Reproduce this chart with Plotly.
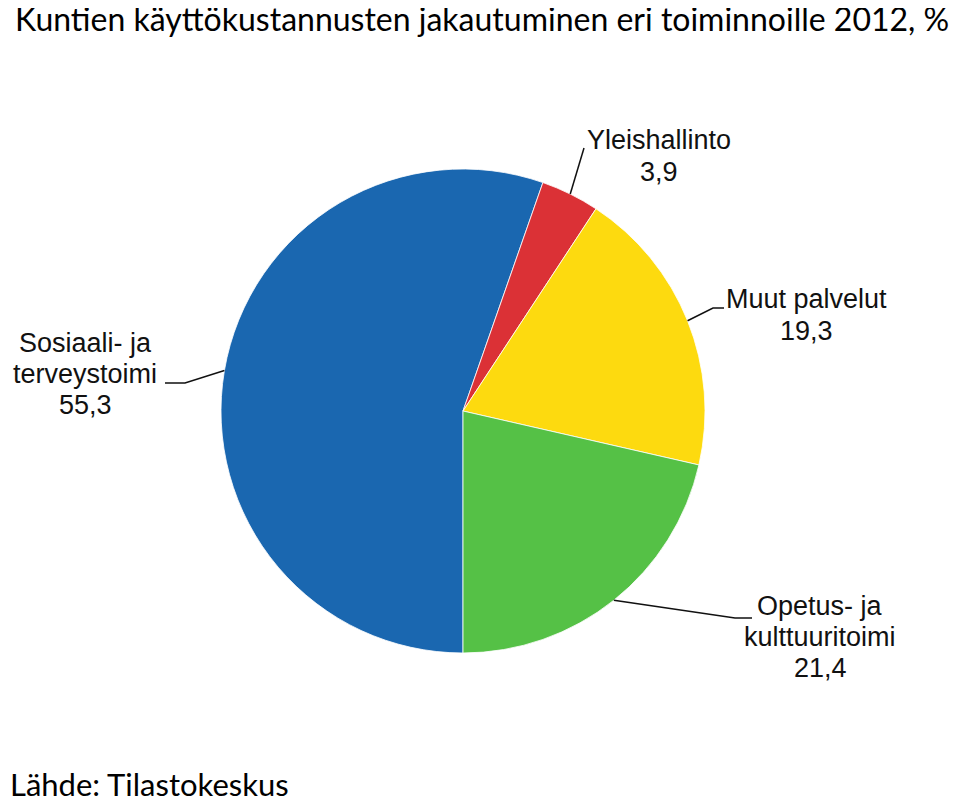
import math
import plotly.graph_objects as go

# ── Data ──────────────────────────────────────────────────────────────────────
categories = ["Sosiaali- ja\nterveystoimi", "Yleishallinto",
              "Muut palvelut", "Opetus- ja\nkulttuuritoimi"]
shares = [55.3, 3.9, 19.3, 21.4]
colors = ["#1a67b0", "#db3136", "#fdda0f", "#55c146"]

title_text = "Kuntien käyttökustannusten jakautuminen eri toiminnoille 2012, %"
source_text = "Lähde: Tilastokeskus"

# ── Layout geometry (screen pixels; page body adds an 8px margin) ────────────
OFF = 8
W, H = 960 - OFF, 799 - OFF
CX, CY, R = 463, 411, 242
START = 180  # pie starts at 6 o'clock, runs clockwise
LINE_H = 31

# label centre (x, y of middle of the text block) + leader elbow/end
label_pos = [(85, 374), (659, 156), (806, 315), (820, 637)]
leader_pts = [[(185, 383), (165, 383)],
              [(584, 148)],
              [(713, 308), (724, 308)],
              [(735, 618), (752, 618)]]


def px(x, y):
    return (x - OFF) / W, 1 - (y - OFF) / H


fig = go.Figure(go.Pie(
    labels=[c.replace("\n", " ") for c in categories],
    values=shares,
    sort=False,
    direction="clockwise",
    rotation=START,
    marker=dict(colors=colors, line=dict(color="white", width=0.8)),
    textinfo="none",
    hoverinfo="label+value",
    showlegend=False,
    domain=dict(x=[(CX - R - OFF) / W, (CX + R - OFF) / W],
                y=[1 - (CY + R - OFF) / H, 1 - (CY - R - OFF) / H]),
))

# leader lines start at each slice's mid angle on the rim
total = sum(shares)
acc = 0.0
shapes = []
annotations = []
for name, v, (lx, ly), pts in zip(categories, shares, label_pos, leader_pts):
    mid = math.radians(START + (acc + v / 2) / total * 360)
    acc += v
    sx = CX + R * math.sin(mid)
    sy = CY - R * math.cos(mid)
    path = "M {} {}".format(*px(sx, sy))
    for x, y in pts:
        path += " L {} {}".format(*px(x, y))
    shapes.append(dict(type="path", xref="paper", yref="paper", path=path,
                       line=dict(color="#111", width=1.5)))
    lines = name.split("\n") + [f"{v:.1f}".replace(".", ",")]
    y0 = ly - LINE_H * (len(lines) - 1) / 2
    for i, t in enumerate(lines):
        ax, ay = px(lx, y0 + i * LINE_H)
        annotations.append(dict(
            x=ax, y=ay, xref="paper", yref="paper", showarrow=False,
            text=t, xanchor="center", yanchor="middle",
            font=dict(family="Liberation Sans, Arial", size=27, color="#111"),
        ))

tx, _ = px(13, 0)
annotations.append(dict(
    x=tx, y=1, xref="paper", yref="paper", showarrow=False,
    text=title_text, xanchor="left", yanchor="top", yshift=11,
    font=dict(family="Lato, Carlito, sans-serif", size=32, color="black"),
))
annotations.append(dict(
    x=0, y=0, xref="paper", yref="paper", showarrow=False,
    text=source_text, xanchor="left", yanchor="bottom", yshift=-6,
    font=dict(family="Lato, Carlito, sans-serif", size=31, color="black"),
))

fig.update_layout(
    width=W, height=H,
    margin=dict(l=0, r=0, t=0, b=0),
    paper_bgcolor="white",
    plot_bgcolor="white",
    shapes=shapes,
    annotations=annotations,
)

fig.write_html("out.html")
